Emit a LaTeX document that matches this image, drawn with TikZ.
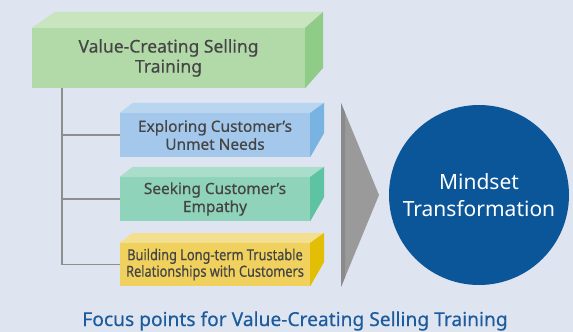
\documentclass[tikz,border=0pt]{standalone}
\usepackage{fontspec}
\setmainfont{Noto Sans}
\newfontfamily\medfont[FakeBold=0.5]{Noto Sans}
\newfontfamily\narrowfont[FakeStretch=0.84,FakeBold=0.5]{Noto Sans}
\usetikzlibrary{calc}
\definecolor{bg}{HTML}{DFE4F1}
\definecolor{txt}{HTML}{454545}
\definecolor{gfront}{HTML}{B2DAA9}
\definecolor{gtop}{HTML}{C8E5C0}
\definecolor{gside}{HTML}{8FCC87}
\definecolor{bfront}{HTML}{A3C8EC}
\definecolor{btop}{HTML}{B9D6F1}
\definecolor{bside}{HTML}{78B3E2}
\definecolor{tfront}{HTML}{8FD3BB}
\definecolor{ttop}{HTML}{AADDCA}
\definecolor{tside}{HTML}{5EC3A2}
\definecolor{yfront}{HTML}{F0D15E}
\definecolor{ytop}{HTML}{F2DF8F}
\definecolor{yside}{HTML}{E2BF05}
\definecolor{arrowgray}{HTML}{9A9A9B}
\definecolor{arrowdark}{HTML}{8A8A8B}
\definecolor{linegray}{HTML}{8E8E8E}
\definecolor{navy}{HTML}{0B5599}
\definecolor{captionblue}{HTML}{1C5C9C}
\tikzset{
  frontface/.style={inner sep=0pt, align=center, text=txt},
  conn/.style={draw=linegray, line width=1.6pt},
}
\begin{document}
\begin{tikzpicture}[x=1pt,y=-1pt]
\fill[bg] (0,0) rectangle (573,332);
\useasboundingbox (0,0) rectangle (573,332);

% top box
\node[frontface, fill=gfront, minimum width=273pt, minimum height=60pt,
  font=\medfont\fontsize{17.5}{20}\selectfont] (top) at (168.5,58) {Value-Creating Selling\\Training};
\fill[gtop] (top.north west) -- ++(23,-16) -- ($(top.north east)+(18,-16)$) -- (top.north east) -- cycle;
\fill[gside] (top.north east) -- ++(18,-16) -- ++(0,56) -- (top.south east) -- cycle;

% blue box
\node[frontface, fill=bfront, minimum width=190pt, minimum height=44pt,
  font=\medfont\fontsize{15.4}{18}\selectfont] (b1) at (215,135) {Exploring Customer’s\\Unmet Needs};
\fill[btop] (b1.north west) -- ++(13,-10) -- ($(b1.north east)+(14,-10)$) -- (b1.north east) -- cycle;
\fill[bside] (b1.north east) -- ++(14,-10) -- ++(0,30) -- (b1.south east) -- cycle;

% green box
\node[frontface, fill=tfront, minimum width=190pt, minimum height=44pt,
  font=\medfont\fontsize{15.4}{18}\selectfont] (b2) at (215,199) {Seeking Customer’s\\Empathy};
\fill[ttop] (b2.north west) -- ++(13,-10) -- ($(b2.north east)+(14,-10)$) -- (b2.north east) -- cycle;
\fill[tside] (b2.north east) -- ++(14,-10) -- ++(0,30) -- (b2.south east) -- cycle;

% yellow box
\node[frontface, fill=yfront, minimum width=190pt, minimum height=43pt,
  font=\narrowfont\fontsize{15.2}{16.5}\selectfont] (b3) at (215,264.5) {Building Long-term Trustable\\Relationships with Customers};
\fill[ytop] (b3.north west) -- ++(13,-10) -- ($(b3.north east)+(14,-10)$) -- (b3.north east) -- cycle;
\fill[yside] (b3.north east) -- ++(14,-10) -- ++(0,29) -- (b3.south east) -- cycle;

% connectors
\coordinate (trunk) at (62,88);
\draw[conn] (trunk) |- (b3.west);
\draw[conn] (trunk) |- (b1.west);
\draw[conn] (trunk) |- (b2.west);

% arrow
\fill[arrowgray] (341,103) -- (379,195) -- (341,287) -- cycle;
\fill[arrowdark] (341,103) -- (345,112.7) -- (345,277.3) -- (341,287) -- cycle;

% circle
\node[circle, fill=navy, minimum size=180pt, inner sep=0pt, text=white, align=center,
  font=\fontsize{21}{27}\selectfont] (mind) at (479,195) {Mindset\\Transformation};

% caption
\node[anchor=base, text=captionblue, inner sep=0pt, font=\medfont\fontsize{19.2}{22}\selectfont] (cap) at (295,326)
  {Focus points for Value-Creating Selling Training};
\end{tikzpicture}
\end{document}
